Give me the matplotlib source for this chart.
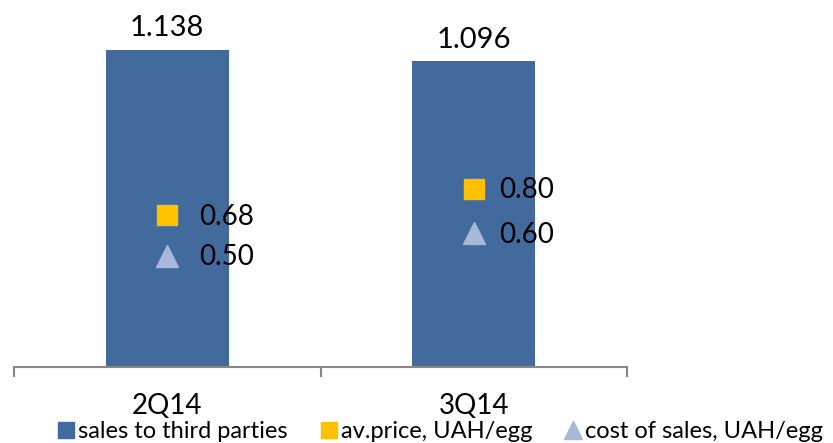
import matplotlib
matplotlib.use("Agg")
import matplotlib.pyplot as plt
from matplotlib.lines import Line2D

plt.rcParams['font.family'] = ['Lato', 'DejaVu Sans']

# Quarterly egg business figures
quarters = ["2Q14", "3Q14"]
sales_third_parties = [1.138, 1.096]
avg_price = [0.68, 0.80]
cost_of_sales = [0.50, 0.60]
series_names = ["sales to third parties", "av.price, UAH/egg", "cost of sales, UAH/egg"]

bar_color = "#426A9C"
price_color = "#FFC000"
cost_color = "#A7B8D8"
axis_color = "#878787"

fig = plt.figure(figsize=(8.33, 4.43), dpi=100)
ax = fig.add_axes([14 / 833, 76 / 443, 613 / 833, 367 / 443])
ax2 = ax.twinx()

x = list(range(len(quarters)))
bars = ax.bar(x, sales_third_parties, width=0.4, color=bar_color, zorder=2)
for xi, v in zip(x, sales_third_parties):
    ax.annotate(f"{v:.3f}", (xi, v), xytext=(0, 6), textcoords="offset points",
                ha="center", va="bottom", fontsize=21, color="black")

ax.set_xlim(-0.5, 1.5)
ax.set_ylim(0, 1.316)
ax2.set_ylim(0, 1.646)

ax2.plot(x, avg_price, linestyle="none", marker="s", markersize=14.5,
         color=price_color, zorder=3)
ax2.plot(x, cost_of_sales, linestyle="none", marker="^", markersize=15.5,
         color=cost_color, zorder=3)

label_dx = [23, 18]
for xi, v, dx in zip(x, avg_price, label_dx):
    ax2.annotate(f"{v:.2f}", (xi, v), xytext=(dx, -1), textcoords="offset points",
                 ha="left", va="center", fontsize=20)
for xi, v, dx in zip(x, cost_of_sales, label_dx):
    ax2.annotate(f"{v:.2f}", (xi, v), xytext=(dx, -1), textcoords="offset points",
                 ha="left", va="center", fontsize=20)

# category axis: boundary ticks between quarters, labels centred under bars
for a in (ax, ax2):
    for side in ("top", "right", "left"):
        a.spines[side].set_visible(False)
    a.set_yticks([])
ax2.spines["bottom"].set_visible(False)
ax.spines["bottom"].set_color(axis_color)
ax.spines["bottom"].set_linewidth(1.5)
ax.set_xticks([-0.5, 0.5, 1.5])
ax.set_xticklabels([])
ax.tick_params(axis="x", which="major", direction="out", length=7.5,
               width=1.5, color=axis_color)
ax.set_xticks(x, minor=True)
ax.set_xticklabels(quarters, minor=True, fontsize=20)
ax.tick_params(axis="x", which="minor", length=0, pad=19)

handles = [
    Line2D([], [], linestyle="none", marker="s", markersize=12, color=bar_color),
    Line2D([], [], linestyle="none", marker="s", markersize=12, color=price_color),
    Line2D([], [], linestyle="none", marker="^", markersize=13, color=cost_color),
]
fig.legend(handles, series_names, loc="lower left", bbox_to_anchor=(0.058, -0.02),
           ncol=3, frameon=False, fontsize=17, handlelength=0.7,
           handletextpad=0.15, columnspacing=1.4, borderaxespad=0)

fig.savefig("out.png", dpi=100)
